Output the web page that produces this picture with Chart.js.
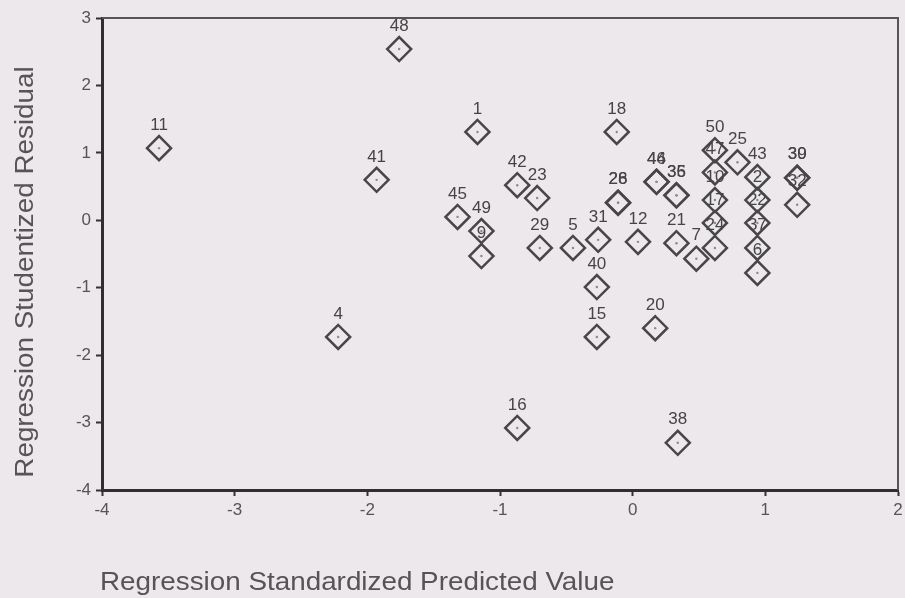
<!DOCTYPE html>
<html>
<head>
<meta charset="utf-8">
<script src="https://cdn.jsdelivr.net/npm/chart.js@4/dist/chart.umd.min.js"></script>
<style>
  html, body { margin: 0; padding: 0; background: #ece8eb; }
  #wrap { width: 905px; height: 598px; position: relative; }
</style>
</head>
<body>
<div id="wrap"><canvas id="residualChart"></canvas></div>
<script>
// case numbers, predicted (x) and studentized residual (y)
const caseLabels = ['11', '48', '41', '1', '4', '45', '49', '9', '42', '23', '29', '16', '5', '31', '40', '15',
  '18', '28', '26', '12', '20', '44', '46', '35', '36', '21', '38', '7', '50', '25', '47', '10', '17', '24',
  '43', '2', '22', '37', '6', '39', '30', '32'];
const xValues = [-3.57, -1.76, -1.93, -1.17, -2.22, -1.32, -1.14, -1.14, -0.87, -0.72, -0.70, -0.87, -0.45, -0.26, -0.27, -0.27,
  -0.12, -0.11, -0.11, 0.04, 0.17, 0.18, 0.18, 0.33, 0.33, 0.33, 0.34, 0.48, 0.62, 0.79, 0.62, 0.62, 0.62, 0.62,
  0.94, 0.94, 0.94, 0.94, 0.94, 1.24, 1.24, 1.24];
const yValues = [1.07, 2.54, 0.60, 1.31, -1.73, 0.05, -0.16, -0.53, 0.52, 0.33, -0.41, -3.08, -0.41, -0.29, -0.99, -1.73,
  1.31, 0.26, 0.26, -0.32, -1.60, 0.57, 0.57, 0.37, 0.37, -0.34, -3.30, -0.57, 1.04, 0.86, 0.71, 0.30, -0.04, -0.41,
  0.64, 0.30, -0.04, -0.41, -0.78, 0.63, 0.63, 0.23];

const xTicks = [-4, -3, -2, -1, 0, 1, 2];
const yTicks = [-4, -3, -2, -1, 0, 1, 2, 3];
const xTitle = 'Regression Standardized Predicted Value';
const yTitle = 'Regression Studentized Residual';

const points = xValues.map((x, i) => ({ x: x, y: yValues[i] }));

// case number above each diamond, plus the frame and axis titles
const labelPlugin = {
  id: 'caseLabels',
  afterDatasetsDraw(chart) {
    const { ctx, chartArea } = chart;
    const meta = chart.getDatasetMeta(0);
    ctx.save();
    ctx.font = '17px "Liberation Sans", Arial, sans-serif';
    ctx.fillStyle = '#454545';
    ctx.textAlign = 'center';
    ctx.textBaseline = 'middle';
    meta.data.forEach((el, i) => {
      ctx.fillText(caseLabels[i], el.x, el.y - 23);
    });

    // thin top / right frame
    ctx.strokeStyle = '#555';
    ctx.lineWidth = 2;
    ctx.beginPath();
    ctx.moveTo(chartArea.left, chartArea.top);
    ctx.lineTo(chartArea.right, chartArea.top);
    ctx.lineTo(chartArea.right, chartArea.bottom);
    ctx.stroke();

    ctx.fillStyle = '#555';
    ctx.font = '26px "Liberation Sans", Arial, sans-serif';
    ctx.textAlign = 'left';
    ctx.textBaseline = 'alphabetic';
    ctx.save();
    ctx.translate(100, 590);
    ctx.scale(1.07, 1);
    ctx.fillText(xTitle, 0, 0);
    ctx.restore();

    ctx.save();
    ctx.translate(33, 272);
    ctx.rotate(-Math.PI / 2);
    ctx.scale(1.07, 1);
    ctx.textAlign = 'center';
    ctx.fillText(yTitle, 0, 0);
    ctx.restore();
    ctx.restore();
  }
};

new Chart(document.getElementById('residualChart').getContext('2d'), {
  type: 'scatter',
  data: {
    datasets: [
      {
        data: points,
        pointStyle: 'rectRot',
        pointRadius: 12,
        pointHoverRadius: 12,
        borderWidth: 2.5,
        borderColor: '#474747',
        backgroundColor: 'rgba(0,0,0,0)'
      },
      {
        data: points,
        pointStyle: 'circle',
        pointRadius: 1.2,
        borderWidth: 0,
        backgroundColor: '#8a8a8a'
      }
    ]
  },
  options: {
    responsive: true,
    maintainAspectRatio: false,
    animation: false,
    events: [],
    layout: { autoPadding: false, padding: { top: 18, right: 7, left: 0, bottom: 0 } },
    plugins: { legend: { display: false }, tooltip: { enabled: false } },
    scales: {
      x: {
        type: 'linear',
        min: -4,
        max: 2,
        afterBuildTicks: (scale) => { scale.ticks = xTicks.map((v) => ({ value: v })); },
        afterFit: (scale) => { scale.height = 108; scale.paddingLeft = 0; scale.paddingRight = 0; },
        grid: { display: true, drawOnChartArea: false, drawTicks: true, tickLength: 6, tickWidth: 2, color: '#333' },
        border: { display: true, width: 3, color: '#2f2f2f' },
        ticks: {
          padding: 4,
          color: '#555',
          font: { family: '"Liberation Sans Narrow", "Liberation Sans", Arial, sans-serif', size: 17 }
        }
      },
      y: {
        type: 'linear',
        min: -4,
        max: 3,
        afterBuildTicks: (scale) => { scale.ticks = yTicks.map((v) => ({ value: v })); },
        afterFit: (scale) => { scale.width = 102; scale.paddingTop = 0; scale.paddingBottom = 0; },
        grid: { display: true, drawOnChartArea: false, drawTicks: true, tickLength: 6, tickWidth: 2, color: '#333' },
        border: { display: true, width: 3, color: '#2f2f2f' },
        ticks: {
          padding: 5,
          color: '#555',
          font: { family: '"Liberation Sans Narrow", "Liberation Sans", Arial, sans-serif', size: 17 }
        }
      }
    }
  },
  plugins: [labelPlugin]
});
</script>
</body>
</html>
